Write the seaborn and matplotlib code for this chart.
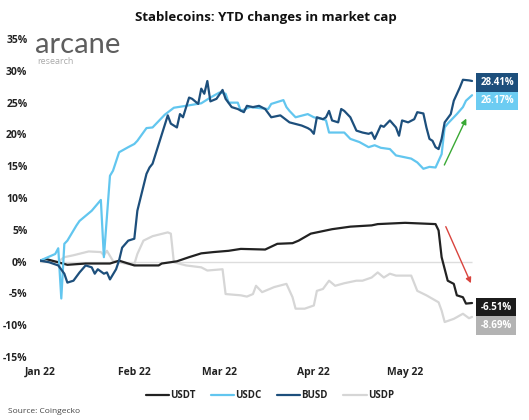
import pandas as pd
import matplotlib
matplotlib.use('Agg')
import matplotlib.pyplot as plt
import matplotlib.dates as mdates
import seaborn as sns

# %% Data (days since 1 Jan 2022, YTD change in %)
start = pd.Timestamp('2022-01-01')

usdt_days = [0, 2, 4, 9, 15, 23, 26, 29, 31, 39, 40, 45, 49, 53, 57, 62, 66, 74, 78, 83, 85,
             89, 96, 102, 109, 111, 120, 130, 131, 132, 134, 136, 137, 139, 140, 142]
usdt_vals = [0.15, 0.4, 0.15, -0.5, -0.3, -0.3, 0.15, -0.3, -0.6, -0.6, -0.3, 0.05, 0.7, 1.3,
             1.5, 1.7, 2.0, 1.9, 2.8, 2.9, 3.3, 4.4, 5.1, 5.5, 5.7, 5.9, 6.1, 5.9, 4.9, 0.7,
             -3.0, -3.5, -5.3, -5.6, -6.6, -6.51]

usdc_days = [0, 5, 6, 7, 8, 9, 12, 13, 17, 20, 21, 23, 24, 26, 29, 31, 32, 35, 37, 41, 44, 48,
             53, 56, 59, 61, 62, 65, 66, 69, 75, 76, 80, 81, 82, 84, 88, 90, 93, 94, 95, 100,
             102, 105, 108, 110, 112, 115, 117, 120, 122, 124, 126, 128, 130, 132, 133, 134,
             137, 139, 140, 142]
usdc_vals = [0.15, 1.2, 2.1, -5.8, 2.8, 3.3, 5.7, 6.4, 8.0, 9.7, 0.7, 13.5, 14.3, 17.2, 18.0,
             18.5, 19.0, 21.0, 21.1, 23.1, 24.2, 24.5, 24.9, 25.8, 26.6, 26.4, 25.0, 25.0, 23.7,
             24.3, 24.0, 24.8, 25.4, 24.3, 23.7, 22.7, 23.2, 22.7, 22.4, 22.2, 20.3, 20.3, 19.3,
             18.8, 18.0, 18.3, 17.9, 17.7, 16.7, 16.4, 16.2, 15.6, 14.6, 14.9, 14.8, 16.9, 21.1,
             21.7, 23.2, 24.3, 25.3, 26.17]

busd_days = [0, 3, 6, 8, 9, 11, 13, 15, 17, 18, 19, 21, 22, 23, 25, 26, 27, 29, 31, 32, 35, 36,
             37, 42, 43, 45, 46, 47, 49, 50, 52, 53, 54, 55, 56, 58, 60, 61, 63, 65, 67, 68, 70,
             72, 74, 76, 79, 82, 86, 88, 89, 90, 91, 93, 94, 95, 96, 98, 99, 100, 102, 104, 106,
             108, 109, 110, 112, 113, 115, 117, 118, 119, 121, 123, 124, 126, 127, 128, 129,
             130, 131, 132, 133, 135, 136, 138, 139, 141, 142]
busd_vals = [0.15, -0.1, -0.6, -1.9, -3.3, -3.0, -1.7, -0.6, -0.9, -1.9, -1.2, -1.9, -1.7, -2.8,
             -1.2, 0.2, 2.2, 3.3, 3.6, 8.0, 13.8, 14.8, 15.4, 23.0, 21.7, 21.1, 23.2, 22.7, 25.8,
             25.6, 24.8, 27.2, 26.4, 28.4, 25.2, 25.6, 27.0, 25.6, 24.3, 24.0, 23.5, 24.5, 24.3,
             24.5, 24.0, 22.7, 23.0, 21.9, 21.4, 21.0, 20.7, 20.1, 22.7, 22.4, 22.7, 23.7, 22.2,
             21.9, 24.0, 23.7, 22.7, 20.6, 20.3, 20.1, 20.3, 19.3, 21.4, 21.2, 22.2, 21.1, 19.8,
             22.2, 21.9, 22.4, 23.5, 23.3, 21.1, 19.3, 19.0, 18.0, 17.7, 19.3, 21.9, 23.2, 25.3,
             27.4, 28.6, 28.5, 28.41]

usdp_days = [0, 6, 8, 11, 16, 20, 21, 22, 24, 29, 31, 32, 34, 37, 42, 43, 44, 48, 53, 55, 60,
             61, 66, 68, 70, 71, 73, 77, 81, 83, 84, 87, 90, 91, 93, 95, 97, 100, 104, 106, 109,
             111, 113, 115, 117, 122, 124, 127, 131, 132, 133, 136, 139, 141, 142]
usdp_vals = [0.0, 0.0, 0.7, 1.0, 1.6, 1.5, 1.0, 1.7, 0.1, -0.4, -0.4, 1.2, 3.3, 4.0, 4.6, 4.4,
             -0.1, -0.6, -0.9, -1.4, -1.2, -5.1, -5.3, -5.5, -5.1, -3.8, -4.8, -4.0, -3.5, -5.6,
             -7.4, -7.4, -6.9, -4.6, -4.3, -3.0, -3.8, -3.4, -3.0, -3.0, -2.5, -1.7, -2.5, -1.9,
             -2.2, -2.2, -4.6, -5.3, -6.4, -7.7, -9.5, -9.0, -8.2, -8.9, -8.69]

coins = ['USDT', 'USDC', 'BUSD', 'USDP']
colors = {'USDT': '#222222', 'USDC': '#62c6ef', 'BUSD': '#1d4f7c', 'USDP': '#d6d6d6'}
label_bg = {'USDT': '#1c1c1c', 'USDC': '#6cccf2', 'BUSD': '#1d4f7c', 'USDP': '#b3b3b3'}
label_dy = {'USDT': -3, 'USDC': -4, 'BUSD': -1, 'USDP': -6}

series = {'USDT': (usdt_days, usdt_vals), 'USDC': (usdc_days, usdc_vals),
          'BUSD': (busd_days, busd_vals), 'USDP': (usdp_days, usdp_vals)}

frames = []
for c in coins:
    d, v = series[c]
    frames.append(pd.DataFrame({'date': start + pd.to_timedelta(d, unit='D'), 'change': v, 'coin': c}))
df = pd.concat(frames, ignore_index=True)

# %% Plot
sns.set_style('white')
plt.rcParams['font.family'] = ['Open Sans', 'DejaVu Sans']

fig = plt.figure(figsize=(5.29, 4.2), dpi=100)
ax = fig.add_axes([0.0756, 0.15, 0.834, 0.757])

end = df['date'].max()
ax.hlines(0, start, end, color='#dddddd', lw=1, zorder=1)

draw_order = ['USDP', 'USDT', 'USDC', 'BUSD']
sns.lineplot(data=df, x='date', y='change', hue='coin', hue_order=draw_order,
             palette=colors, lw=1.6, ax=ax, legend=False, estimator=None, sort=True)

ax.set_xlim(start, start + pd.Timedelta(days=145))
ax.set_ylim(-15, 35)
ax.set_yticks(range(-15, 36, 5))
ax.set_yticklabels([f'{t}%' for t in range(-15, 36, 5)])
ax.xaxis.set_major_locator(mdates.MonthLocator())
ax.xaxis.set_major_formatter(mdates.DateFormatter('%b %y'))
ax.tick_params(axis='both', length=0, labelsize=7.5, colors='#222222')
ax.tick_params(axis='y', pad=9)
ax.tick_params(axis='x', pad=7)
for lab in ax.get_xticklabels() + ax.get_yticklabels():
    lab.set_fontweight('bold')
ax.set_xlabel('')
ax.set_ylabel('')
sns.despine(ax=ax, left=True, bottom=True)

# end-of-line value boxes
for c in coins:
    d, v = series[c]
    ax.annotate(f'{v[-1]:.2f}%', xy=(start + pd.Timedelta(days=d[-1]), v[-1]),
                xytext=(6, label_dy[c]), textcoords='offset points', va='center', ha='left',
                fontsize=7, fontweight='bold', color='white',
                bbox=dict(boxstyle='square,pad=0.42', fc=label_bg[c], ec='none'))

# trend arrows
ax.annotate('', xy=(start + pd.Timedelta(days=140.5), 22.9), xytext=(start + pd.Timedelta(days=132.5), 14.8),
            arrowprops=dict(arrowstyle='-|>', color='#3aa935', lw=1, mutation_scale=8))
ax.annotate('', xy=(start + pd.Timedelta(days=142), -3.8), xytext=(start + pd.Timedelta(days=133), 5.9),
            arrowprops=dict(arrowstyle='-|>', color='#d9443e', lw=1, mutation_scale=8))

# legend
handles = [plt.Line2D([], [], color=colors[c], lw=1.6) for c in coins]
leg = fig.legend(handles, coins, loc='center', bbox_to_anchor=(0.51, 0.058), ncol=4, frameon=False,
                 handlelength=2.4, handletextpad=0.1, columnspacing=1.6, fontsize=7)
for t in leg.get_texts():
    t.set_fontweight('bold')
    t.set_color('#222222')

# texts
fig.text(0.503, 0.958, 'Stablecoins: YTD changes in market cap', ha='center', va='center',
         fontsize=9.5, fontweight='bold', color='#111111')
fig.text(0.066, 0.893, 'arcane', ha='left', va='center', fontsize=21, fontweight='normal',
         color='#5e5e5e', family=['Lato', 'DejaVu Sans'])
fig.text(0.071, 0.854, 'research', ha='left', va='center', fontsize=6.5, color='#aaaaaa')
fig.text(0.015, 0.02, 'Source: Coingecko', ha='left', va='center', fontsize=6, color='#444444')

fig.savefig('out.png', dpi=100)
